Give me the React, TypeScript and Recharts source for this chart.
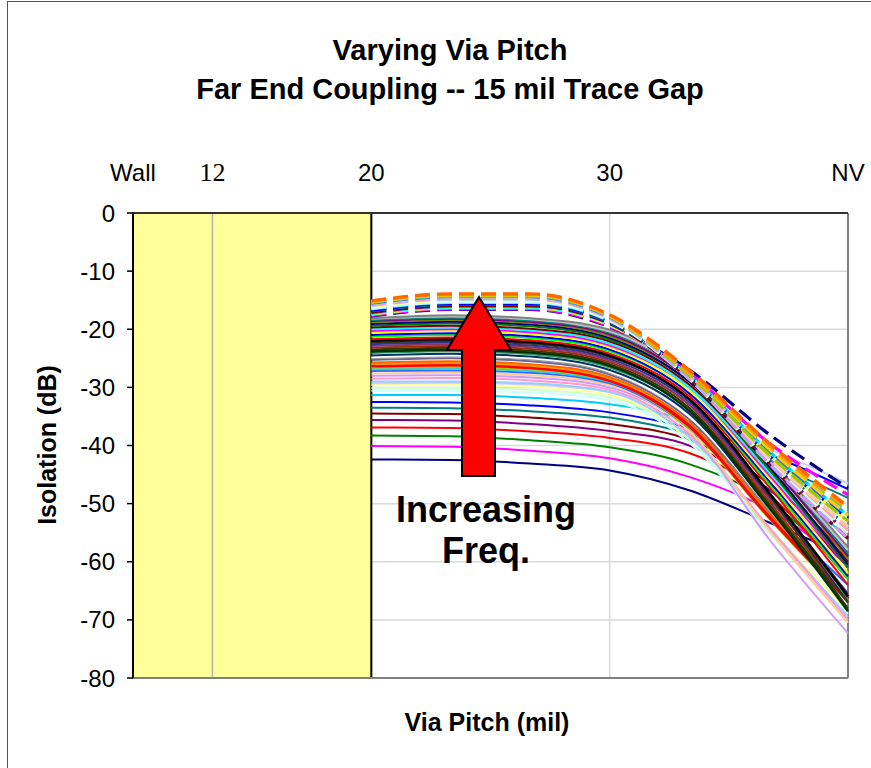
import React from 'react';
import { LineChart, Line, XAxis, YAxis, CartesianGrid, ReferenceArea, ReferenceLine } from 'recharts';

// x positions of the via pitch points (Wall=0, 12=1, 20=3, 30=6, NV=9)
const pitchPos = [3, 4, 5, 6, 7, 8, 9];
const xTickPos = [0, 1, 3, 6, 9];
const xTickLabels = ['Wall', '12', '20', '30', 'NV'];
const yTicks = [0, -10, -20, -30, -40, -50, -60, -70, -80];

// lowest frequencies (solid, well separated)
const lowFreqSeries = [
  [-42.4, -42.5, -43.1, -44.3, -47.7, -53.2, -59],
  [-40.1, -40.2, -40.9, -42.2, -45.4, -51, -60.5],
  [-38.3, -38.4, -39.1, -40.3, -43.2, -49.5, -62],
  [-36.9, -37.0, -37.6, -38.7, -41.3, -48.5, -63],
  [-35.6, -35.7, -36.3, -37.5, -40.0, -47.5, -61],
  [-34.5, -34.6, -35.2, -36.3, -39.0, -46.5, -59],
  [-33.5, -33.6, -34.1, -35.2, -38.0, -43.0, -49],
  [-32.5, -32.6, -33.1, -34.3, -37.0, -41.5, -47.5],
  [-31.3, -31.3, -31.8, -32.9, -36.0, -44.5, -56],
];
const lowFreqColors = ['#000080', '#FF00FF', '#008000', '#FF0000', '#800080', '#800000', '#008080', '#0000FF', '#00CCFF'];

// middle frequencies (solid bundle)
const midFreqSeries = [
  [-30.6, -30.6, -30.9, -32.2, -39.5, -55, -69],
  [-30.1, -30.1, -30.4, -31.7, -39, -54.5, -68],
  [-29.6, -29.6, -29.9, -31.3, -38.5, -54, -68.5],
  [-29.3, -29.2, -29.5, -30.8, -34.5, -40.5, -46.5],
  [-29.0, -29.0, -29.3, -30.8, -38.5, -54, -69.5],
  [-28.5, -28.4, -28.8, -30.4, -38, -54, -70],
  [-28.0, -27.9, -28.3, -30.0, -37.5, -56, -72.3],
  [-27.6, -27.5, -27.9, -29.6, -37.5, -54.5, -70.5],
  [-27.2, -27.1, -27.5, -29.3, -37, -51, -64],
  [-26.9, -26.8, -27.2, -29.1, -37, -52, -66],
  [-26.6, -26.5, -26.9, -28.9, -37, -52.5, -67],
  [-26.4, -26.2, -26.7, -28.8, -36.5, -52, -66],
  [-26.2, -26.0, -26.5, -28.7, -36.5, -52, -66.5],
  [-26.0, -25.8, -26.3, -28.5, -36, -51.5, -65.5],
  [-25.7, -25.5, -26.0, -28.2, -36, -51.5, -66],
  [-25.3, -25.0, -25.5, -27.8, -35.5, -51, -66],
  [-25.0, -24.7, -25.2, -27.5, -35, -51, -66.5],
  [-24.8, -24.5, -25.0, -27.3, -35, -50.5, -66],
  [-24.5, -24.2, -24.7, -27.0, -34.5, -50.5, -67],
  [-24.1, -23.8, -24.3, -26.6, -34, -50, -66.5],
  [-23.8, -23.5, -24.0, -26.3, -34, -50.5, -68.5],
  [-23.5, -23.2, -23.7, -26.0, -33.5, -50, -68],
  [-23.2, -22.9, -23.4, -25.7, -33, -49.5, -67],
  [-22.9, -22.6, -23.1, -25.4, -33, -49, -66],
  [-22.6, -22.3, -22.8, -25.1, -32.5, -48.5, -65.5],
  [-22.3, -22.0, -22.5, -24.8, -32, -48.5, -67],
  [-22.0, -21.7, -22.2, -24.5, -32, -48, -66],
  [-21.7, -21.4, -21.9, -24.2, -31.5, -47, -64],
  [-21.3, -21.0, -21.5, -23.8, -31, -46.5, -63],
  [-21.0, -20.7, -21.2, -23.5, -31, -46, -62.5],
  [-20.6, -20.3, -20.8, -23.1, -30.5, -45.5, -62],
  [-20.3, -20.0, -20.5, -22.8, -30, -45, -61],
  [-20.0, -19.7, -20.2, -22.5, -30, -44.5, -60.5],
  [-19.7, -19.4, -19.9, -22.1, -29.5, -44, -60],
  [-19.4, -19.0, -19.5, -21.8, -29, -44, -61],
  [-19.1, -18.7, -19.2, -21.5, -29, -43.5, -60.5],
  [-18.8, -18.4, -18.9, -21.2, -28.5, -43, -59.5],
  [-18.6, -18.2, -18.7, -20.9, -28.5, -43, -59],
  [-18.4, -18.0, -18.5, -20.6, -28, -42.5, -58.5],
  [-18.2, -17.8, -18.3, -20.4, -28, -42.5, -58],
  [-18.1, -17.6, -18.1, -20.1, -27.5, -42, -57.5],
];
const midFreqColors = [
  '#CCFFFF', '#CCFFCC', '#FFFF99', '#CCCCFF', '#99CCFF', '#FF99CC', '#CC99FF', '#FFCC99',
  '#3366FF', '#33CCCC', '#99CC00', '#FFCC00', '#FF0000', '#FF9900', '#FF6600', '#666699',
  '#969696', '#FFFFFF', '#003366', '#339966', '#003300', '#333300', '#993300', '#993366',
  '#333399', '#333333', '#000000', '#FF0000', '#00FF00', '#0000FF', '#FFFF00', '#FF00FF',
  '#00FFFF', '#800000', '#008000', '#000080', '#808000', '#800080', '#008080', '#C0C0C0', '#808080',
];
const midFreqWidths = midFreqColors.map((c, i) => (i === 12 ? 4.5 : i === 20 || i === 26 ? 2.6 : 2));

// highest frequencies (dashed)
const highFreqSeries = [
  [-17.7, -16.6, -16.6, -19.6, -27.0, -38.0, -47.3],
  [-17.6, -16.5, -16.5, -19.5, -27.5, -39.5, -48.5],
  [-17.4, -16.3, -16.3, -19.3, -28, -41.5, -53],
  [-17.3, -16.2, -16.2, -19.1, -28, -41, -52],
  [-17.1, -16.0, -16.0, -19.0, -28.5, -42.5, -55],
  [-17.0, -15.9, -15.9, -18.9, -28.5, -43, -56],
  [-16.8, -15.7, -15.7, -18.8, -28, -42, -54],
  [-16.7, -15.6, -15.6, -18.7, -28, -41.5, -52.5],
  [-16.5, -15.4, -15.4, -18.6, -28, -41, -52],
  [-16.4, -15.3, -15.3, -18.5, -28.5, -42.5, -54.5],
  [-16.2, -15.1, -15.1, -18.4, -28.5, -43, -55],
  [-16.1, -15.0, -15.0, -18.3, -28, -42, -54],
  [-15.9, -14.8, -14.8, -18.2, -28, -41.5, -53],
  [-15.8, -14.7, -14.7, -18.1, -28, -42, -54.5],
  [-15.7, -14.6, -14.6, -18.0, -28.5, -43, -56],
  [-15.6, -14.5, -14.5, -17.9, -28, -42, -54],
  [-15.5, -14.4, -14.4, -17.9, -27.5, -41, -52],
  [-15.4, -14.3, -14.3, -17.8, -27.5, -40.5, -51.5],
  [-15.3, -14.2, -14.2, -17.8, -28, -41.5, -53],
  [-15.3, -14.1, -14.1, -17.7, -27.5, -40.5, -52],
  [-15.2, -14.0, -14.0, -17.6, -27.5, -40, -51],
  [-15.1, -13.9, -13.9, -17.5, -27, -39.5, -50.5],
];
const highFreqColors = [
  '#000080', '#FF00FF', '#FFFF00', '#00FFFF', '#800080', '#800000', '#008080', '#0000FF',
  '#00CCFF', '#CCFFFF', '#CCFFCC', '#FFFF99', '#99CCFF', '#FF99CC', '#CC99FF', '#FFCC99',
  '#3366FF', '#33CCCC', '#99CC00', '#FFCC00', '#FF9900', '#FF6600',
];

const allSeries = [
  ...lowFreqSeries.map((v, i) => ({ values: v, color: lowFreqColors[i], width: 2, dashed: false })),
  ...midFreqSeries.map((v, i) => ({ values: v, color: midFreqColors[i], width: midFreqWidths[i], dashed: false })),
  ...highFreqSeries.map((v, i) => ({ values: v, color: highFreqColors[i], width: 3.2, dashed: true })),
];

const data = pitchPos.map((pos, j) => {
  const row: Record<string, number> = { pos };
  allSeries.forEach((s, k) => {
    row[`f${k}`] = s.values[j];
  });
  return row;
});

const FONT = '"Liberation Sans", Arial, sans-serif';

const TopTick = (props: any) => {
  const { x, y, payload } = props;
  const label = xTickLabels[xTickPos.indexOf(payload.value)];
  const serif = label === '12';
  return (
    <text
      x={x}
      y={y}
      textAnchor="middle"
      fontSize={serif ? 26 : 24}
      fontFamily={serif ? '"Liberation Serif", "Times New Roman", serif' : FONT}
      fill="#000"
    >
      {label}
    </text>
  );
};

export default function App() {
  return (
    <div style={{ position: 'absolute', left: 0, top: 0, width: 871, height: 768, background: '#fff', fontFamily: FONT, overflow: 'hidden' }}>
      <div style={{ position: 'absolute', left: 7, top: 1, width: 864, height: 767, borderLeft: '1px solid #555', borderTop: '1px solid #555' }} />
      <div style={{ position: 'absolute', left: 0, width: 900, top: 31, textAlign: 'center', fontWeight: 'bold', fontSize: 29, lineHeight: '39px' }}>
        Varying Via Pitch
        <br />
        Far End Coupling -- 15 mil Trace Gap
      </div>
      <LineChart
        width={871}
        height={768}
        data={data}
        margin={{ top: 153, right: 23, bottom: 90, left: 0 }}
        style={{ position: 'absolute', left: 0, top: 0, outline: 'none' }}
      >
        <CartesianGrid stroke="#d9d9d9" strokeWidth={1.5} />
        <XAxis
          dataKey="pos"
          type="number"
          orientation="top"
          domain={[0, 9]}
          ticks={xTickPos}
          height={60}
          tickLine={false}
          tickMargin={26}
          axisLine={{ stroke: '#333', strokeWidth: 2 }}
          tick={<TopTick />}
          interval={0}
        />
        <YAxis
          type="number"
          domain={[-80, 0]}
          ticks={yTicks}
          width={133}
          tickSize={6}
          tickMargin={12}
          axisLine={{ stroke: '#000', strokeWidth: 1.5 }}
          tickLine={{ stroke: '#000', strokeWidth: 1.5 }}
          tick={{ fill: '#000', fontSize: 24, fontFamily: FONT }}
          interval={0}
        />
        <ReferenceArea x1={0} x2={3} y1={-80} y2={0} fill="#FFFF99" fillOpacity={1} stroke="#000" strokeWidth={2} />
        <ReferenceLine x={1} stroke="#b0b0b0" strokeWidth={1.5} />
        <ReferenceLine x={9} stroke="#808080" strokeWidth={2} />
        <ReferenceLine y={-80} stroke="#808080" strokeWidth={2} />
        {allSeries.map((s, k) => (
          <Line
            key={k}
            dataKey={`f${k}`}
            type="monotone"
            stroke={s.color}
            strokeWidth={s.width}
            strokeDasharray={s.dashed ? '15 7' : undefined}
            dot={false}
            activeDot={false}
            isAnimationActive={false}
          />
        ))}
      </LineChart>
      <svg width={871} height={768} style={{ position: 'absolute', left: 0, top: 0, pointerEvents: 'none' }}>
        <polygon
          points="479,297 511,350 495,350 495,476 462,476 462,350 447,350"
          fill="#FF0000"
          stroke="#000"
          strokeWidth={2}
          strokeLinejoin="miter"
        />
        <text x={486} y={522} textAnchor="middle" fontSize={36} fontWeight="bold" fontFamily={FONT}>
          Increasing
        </text>
        <text x={486} y={563} textAnchor="middle" fontSize={36} fontWeight="bold" fontFamily={FONT}>
          Freq.
        </text>
        <text x={487} y={731} textAnchor="middle" fontSize={25} fontWeight="bold" fontFamily={FONT}>
          Via Pitch (mil)
        </text>
        <text
          x={0}
          y={0}
          transform="translate(56,445) rotate(-90)"
          textAnchor="middle"
          fontSize={25}
          fontWeight="bold"
          fontFamily={FONT}
        >
          Isolation (dB)
        </text>
      </svg>
    </div>
  );
}
